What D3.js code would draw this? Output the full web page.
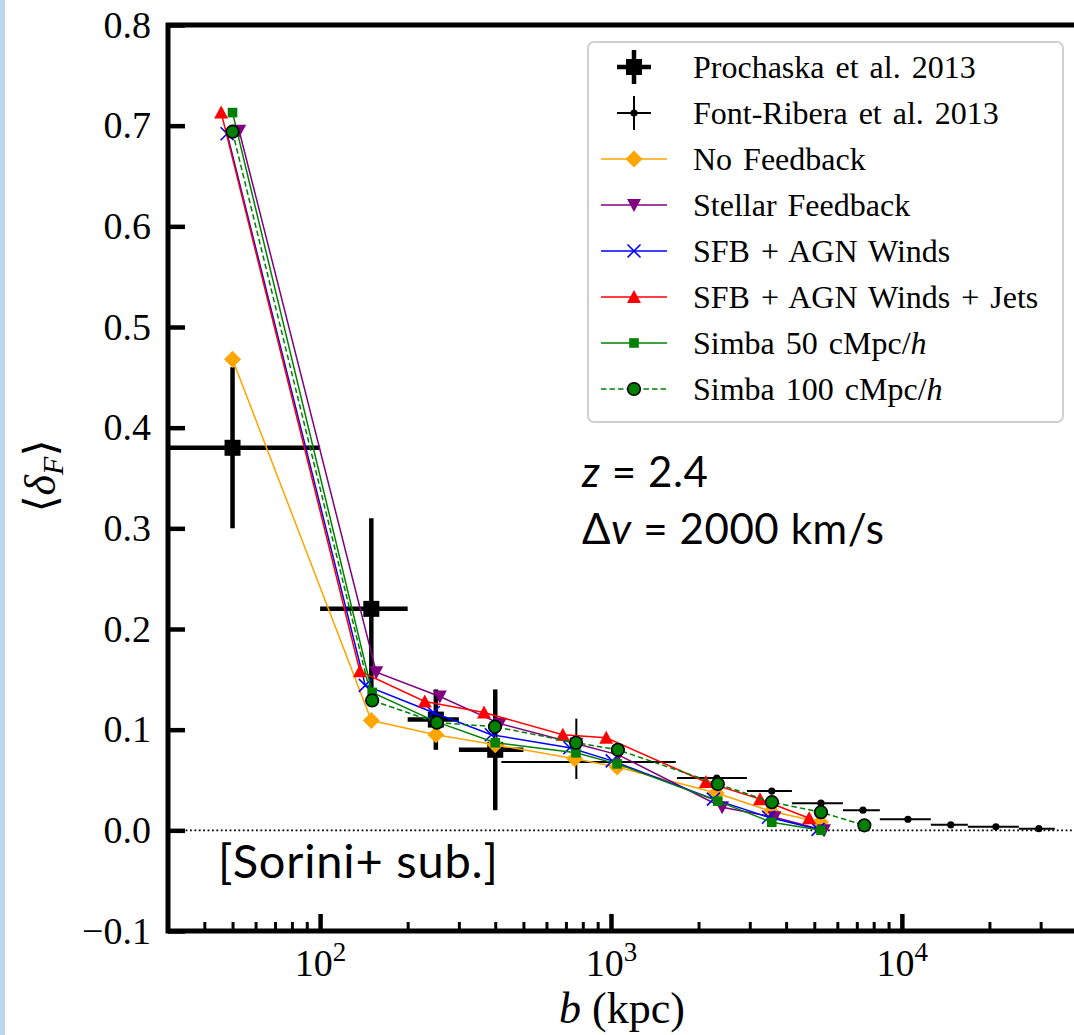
<!DOCTYPE html>
<html>
<head>
<meta charset="utf-8">
<script src="https://cdn.jsdelivr.net/npm/d3@7"></script>
<style>
  body { margin: 0; background: #fff; }
  svg { display: block; }
</style>
</head>
<body>
<script>
// observations: Prochaska et al. 2013
const bProchaska = [50, 150, 250, 400];
const dProchaska = [0.38, 0.22, 0.11, 0.08];
const bProchaskaLo = [1, 100, 200, 300];
const bProchaskaHi = [100, 200, 300, 500];
const dProchaskaLo = [0.30, 0.135, 0.08, 0.02];
const dProchaskaHi = [0.46, 0.31, 0.14, 0.14];

// observations: Font-Ribera et al. 2013
const bFontRibera = [760, 1050, 2310, 3570, 5270, 7350, 10490, 14730, 21040, 29580];
const dFontRibera = [0.081, 0.068, 0.052, 0.039, 0.027, 0.020, 0.011, 0.0055, 0.0035, 0.0016];
const bFontRiberaLo = [760, 420, 1686, 2933, 4188, 6270, 8400, 12580, 16860, 25240];
const bFontRiberaHi = [760, 1670, 2933, 4188, 6270, 8400, 12580, 16860, 25240, 33560];
const dFontRiberaLo = [0.051, 0.068, 0.052, 0.039, 0.027, 0.020, 0.011, 0.0055, 0.0035, 0.0016];
const dFontRiberaHi = [0.111, 0.068, 0.052, 0.039, 0.027, 0.020, 0.011, 0.0055, 0.0035, 0.0016];

// simulations
const bNoFeedback = [50, 150, 250, 400, 750, 1050, 2300, 3550, 5250];
const dNoFeedback = [0.468, 0.109, 0.095, 0.085, 0.071, 0.063, 0.037, 0.019, 0.008];

const bStellar = [52.7, 156, 258, 415, 760, 1060, 2410, 3650, 5400];
const dStellar = [0.695, 0.157, 0.133, 0.106, 0.086, 0.075, 0.023, 0.013, 0.000];

const bWinds = [47.9, 143, 245, 388, 722, 1010, 2250, 3480, 5150];
const dWinds = [0.692, 0.144, 0.117, 0.095, 0.082, 0.069, 0.031, 0.013, 0.001];

const bJets = [45.7, 137, 229, 366, 683, 963, 2119, 3253, 4800];
const dJets = [0.713, 0.158, 0.128, 0.117, 0.095, 0.092, 0.048, 0.031, 0.012];

const bSimba50 = [50, 151, 250, 400, 758, 1050, 2330, 3570, 5270];
const dSimba50 = [0.713, 0.137, 0.108, 0.087, 0.077, 0.066, 0.029, 0.008, 0.000];

const bSimba100 = [50, 151, 252, 399, 758, 1056, 2330, 3574, 5270, 7430];
const dSimba100 = [0.694, 0.129, 0.107, 0.103, 0.087, 0.080, 0.046, 0.028, 0.018, 0.005];

const xMajor = [100, 1000, 10000];
const xMinor = [40, 50, 60, 70, 80, 90, 200, 300, 400, 500, 600, 700, 800, 900,
  2000, 3000, 4000, 5000, 6000, 7000, 8000, 9000, 20000, 30000];
const yTicks = [-0.1, 0, 0.1, 0.2, 0.3, 0.4, 0.5, 0.6, 0.7, 0.8];

const SERIF = '"Liberation Serif", "DejaVu Serif", serif';
const SANS = 'Lato, "Open Sans", sans-serif';

const series = [
  { title: 'No Feedback', b: bNoFeedback, d: dNoFeedback, color: '#ffa500', marker: 'D' },
  { title: 'Stellar Feedback', b: bStellar, d: dStellar, color: '#800080', marker: 'v' },
  { title: 'SFB + AGN Winds', b: bWinds, d: dWinds, color: '#0000ff', marker: 'x' },
  { title: 'SFB + AGN Winds + Jets', b: bJets, d: dJets, color: '#ff0000', marker: '^' },
  { title: 'Simba 50 cMpc/', italic: 'h', b: bSimba50, d: dSimba50, color: '#008000', marker: 's' },
  { title: 'Simba 100 cMpc/', italic: 'h', b: bSimba100, d: dSimba100, color: '#008000', marker: 'o', dashed: true },
];

const width = 1074;
const height = 1035;
const plotLeft = 168, plotRight = 1077, plotTop = 25, plotBottom = 931;

const svg = d3.select('body')
  .append('svg')
  .attr('width', width)
  .attr('height', height);

// slide edge strip
svg.append('rect')
  .attr('x', 0).attr('y', 0)
  .attr('width', 5).attr('height', height)
  .attr('fill', '#bdd7ee');

const x = d3.scaleLog().domain([30, 40000]).range([plotLeft, plotRight]);
const y = d3.scaleLinear().domain([-0.1, 0.8]).range([plotBottom, plotTop]);

svg.append('clipPath')
  .attr('id', 'plot')
  .append('rect')
  .attr('x', plotLeft).attr('y', plotTop)
  .attr('width', plotRight - plotLeft).attr('height', plotBottom - plotTop);

// axes, ticks pointing in
const xAxis = svg.append('g')
  .attr('transform', `translate(0, ${plotBottom})`)
  .call(d3.axisBottom(x).tickValues(xMajor).tickSize(-17).tickFormat(''));
const xMinorAxis = svg.append('g')
  .attr('transform', `translate(0, ${plotBottom})`)
  .call(d3.axisBottom(x).tickValues(xMinor).tickSize(-9).tickFormat(''));
const yAxis = svg.append('g')
  .attr('transform', `translate(${plotLeft}, 0)`)
  .call(d3.axisLeft(y).tickValues(yTicks).tickSize(-17).tickPadding(17).tickFormat(d3.format('.1f')));

[xAxis, xMinorAxis, yAxis].forEach(g => g.select('.domain').remove());
xAxis.selectAll('.tick line').attr('stroke-width', 4.5);
yAxis.selectAll('.tick line').attr('stroke-width', 4.5);
xMinorAxis.selectAll('.tick line').attr('stroke-width', 3);
yAxis.selectAll('.tick text')
  .attr('font-family', SERIF)
  .attr('font-size', 38)
  .attr('fill', '#000');

xAxis.selectAll('.tick')
  .append('text')
  .attr('y', 45)
  .attr('fill', '#000')
  .attr('font-family', SERIF)
  .attr('font-size', 38)
  .attr('text-anchor', 'middle')
  .each(function (v) {
    const t = d3.select(this);
    t.append('tspan').text('10');
    t.append('tspan')
      .attr('dy', -15)
      .attr('font-size', 27)
      .text(Math.round(Math.log10(v)));
  });

// zero line
svg.append('line')
  .attr('x1', plotLeft).attr('x2', plotRight)
  .attr('y1', y(0)).attr('y2', y(0))
  .attr('stroke', '#000')
  .attr('stroke-width', 1.8)
  .attr('stroke-dasharray', '1.8,2.6');

const plot = svg.append('g').attr('clip-path', 'url(#plot)');

// Prochaska error bars
const pro = plot.append('g');
bProchaska.forEach((b, i) => {
  pro.append('line')
    .attr('x1', x(bProchaskaLo[i])).attr('x2', x(bProchaskaHi[i]))
    .attr('y1', y(dProchaska[i])).attr('y2', y(dProchaska[i]))
    .attr('stroke', '#000').attr('stroke-width', 4.5);
  pro.append('line')
    .attr('x1', x(b)).attr('x2', x(b))
    .attr('y1', y(dProchaskaLo[i])).attr('y2', y(dProchaskaHi[i]))
    .attr('stroke', '#000').attr('stroke-width', 4.5);
  pro.append('rect')
    .attr('x', x(b) - 8).attr('y', y(dProchaska[i]) - 8)
    .attr('width', 16).attr('height', 16)
    .attr('fill', '#000');
});

// Font-Ribera error bars
const fr = plot.append('g');
bFontRibera.forEach((b, i) => {
  fr.append('line')
    .attr('x1', x(bFontRiberaLo[i])).attr('x2', x(bFontRiberaHi[i]))
    .attr('y1', y(dFontRibera[i])).attr('y2', y(dFontRibera[i]))
    .attr('stroke', '#000').attr('stroke-width', 2);
  fr.append('line')
    .attr('x1', x(b)).attr('x2', x(b))
    .attr('y1', y(dFontRiberaLo[i])).attr('y2', y(dFontRiberaHi[i]))
    .attr('stroke', '#000').attr('stroke-width', 2);
  fr.append('circle')
    .attr('cx', x(b)).attr('cy', y(dFontRibera[i]))
    .attr('r', 3.6)
    .attr('fill', '#000');
});

function drawMarker(g, kind, color) {
  if (kind === 'D') {
    g.append('path').attr('d', 'M0,-8.5L8.5,0L0,8.5L-8.5,0Z').attr('fill', color);
  } else if (kind === 'v') {
    g.append('path').attr('d', 'M-7,-6L7,-6L0,7Z').attr('fill', color);
  } else if (kind === '^') {
    g.append('path').attr('d', 'M0,-7L7,6L-7,6Z').attr('fill', color);
  } else if (kind === 'x') {
    g.append('path').attr('d', 'M-6.5,-6.5L6.5,6.5M-6.5,6.5L6.5,-6.5')
      .attr('stroke', color).attr('stroke-width', 1.6).attr('fill', 'none');
  } else if (kind === 's') {
    g.append('rect').attr('x', -4.8).attr('y', -4.8).attr('width', 9.6).attr('height', 9.6).attr('fill', color);
  } else if (kind === 'o') {
    g.append('circle').attr('r', 6.3).attr('fill', color).attr('stroke', '#000').attr('stroke-width', 1.6);
  }
}

const line = d3.line();
series.forEach(s => {
  const pts = s.b.map((b, i) => [x(b), y(s.d[i])]);
  plot.append('path')
    .datum(pts)
    .attr('d', line)
    .attr('fill', 'none')
    .attr('stroke', s.color)
    .attr('stroke-width', 1.5)
    .attr('stroke-dasharray', s.dashed ? '5.5,3' : null);
  pts.forEach(([px, py]) => {
    drawMarker(plot.append('g').attr('transform', `translate(${px},${py})`), s.marker, s.color);
  });
});

// legend
const legend = svg.append('g');
legend.append('rect')
  .attr('x', 588).attr('y', 42)
  .attr('width', 475).attr('height', 380)
  .attr('rx', 6)
  .attr('fill', 'rgba(255,255,255,0.8)')
  .attr('stroke', '#d0d0d0')
  .attr('stroke-width', 2);

const rowY = i => 67 + 46 * i;
const keyX = 634;

const legendRow = (i, label, italic) => {
  const t = legend.append('text')
    .attr('x', 693).attr('y', rowY(i))
    .attr('dy', '0.33em')
    .attr('font-family', SERIF)
    .attr('font-size', 32)
    .attr('word-spacing', 3)
    .attr('fill', '#000')
    .text(label);
  if (italic) t.append('tspan').attr('font-style', 'italic').text(italic);
};

// Prochaska key
legend.append('path')
  .attr('d', `M${keyX - 17},${rowY(0)}H${keyX + 17}M${keyX},${rowY(0) - 17}V${rowY(0) + 17}`)
  .attr('stroke', '#000').attr('stroke-width', 4.5);
legend.append('rect')
  .attr('x', keyX - 8).attr('y', rowY(0) - 8)
  .attr('width', 16).attr('height', 16).attr('fill', '#000');
legendRow(0, 'Prochaska et al. 2013');

// Font-Ribera key
legend.append('path')
  .attr('d', `M${keyX - 17},${rowY(1)}H${keyX + 17}M${keyX},${rowY(1) - 17}V${rowY(1) + 17}`)
  .attr('stroke', '#000').attr('stroke-width', 2);
legend.append('circle')
  .attr('cx', keyX).attr('cy', rowY(1)).attr('r', 3.6).attr('fill', '#000');
legendRow(1, 'Font-Ribera et al. 2013');

series.forEach((s, k) => {
  const i = k + 2;
  legend.append('line')
    .attr('x1', 601).attr('x2', 667)
    .attr('y1', rowY(i)).attr('y2', rowY(i))
    .attr('stroke', s.color)
    .attr('stroke-width', 1.5)
    .attr('stroke-dasharray', s.dashed ? '5.5,3' : null);
  drawMarker(legend.append('g').attr('transform', `translate(${keyX},${rowY(i)})`), s.marker, s.color);
  legendRow(i, s.title, s.italic);
});

// spines
svg.append('rect')
  .attr('x', plotLeft).attr('y', plotTop)
  .attr('width', plotRight - plotLeft).attr('height', plotBottom - plotTop)
  .attr('fill', 'none')
  .attr('stroke', '#000')
  .attr('stroke-width', 5);

// annotations
const z = svg.append('text')
  .attr('x', 582).attr('y', 487)
  .attr('font-family', SANS).attr('font-size', 42).attr('letter-spacing', 0.6).attr('fill', '#000');
z.append('tspan').attr('font-style', 'italic').text('z');
z.append('tspan').text(' = 2.4');

const dv = svg.append('text')
  .attr('x', 582).attr('y', 544)
  .attr('font-family', SANS).attr('font-size', 42).attr('letter-spacing', 0.6).attr('fill', '#000');
dv.append('tspan').text('Δ');
dv.append('tspan').attr('font-style', 'italic').text('v');
dv.append('tspan').text(' = 2000 km/s');

svg.append('text')
  .attr('x', 218).attr('y', 878)
  .attr('font-family', SANS).attr('font-size', 47).attr('letter-spacing', 0.8).attr('fill', '#000')
  .text('[Sorini+ sub.]');

// axis labels
const xl = svg.append('text')
  .attr('x', 622).attr('y', 1023)
  .attr('text-anchor', 'middle')
  .attr('font-family', SERIF).attr('font-size', 44).attr('fill', '#000');
xl.append('tspan').attr('font-style', 'italic').text('b');
xl.append('tspan').text(' (kpc)');

const yl = svg.append('text')
  .attr('transform', 'translate(55, 476) rotate(-90)')
  .attr('text-anchor', 'middle')
  .attr('font-family', SERIF).attr('font-size', 44).attr('fill', '#000');
yl.append('tspan').text('⟨');
yl.append('tspan').attr('font-style', 'italic').text('δ');
yl.append('tspan').attr('font-style', 'italic').attr('font-size', 30).attr('dy', 8).text('F');
yl.append('tspan').attr('dy', -8).text('⟩');
</script>
</body>
</html>
